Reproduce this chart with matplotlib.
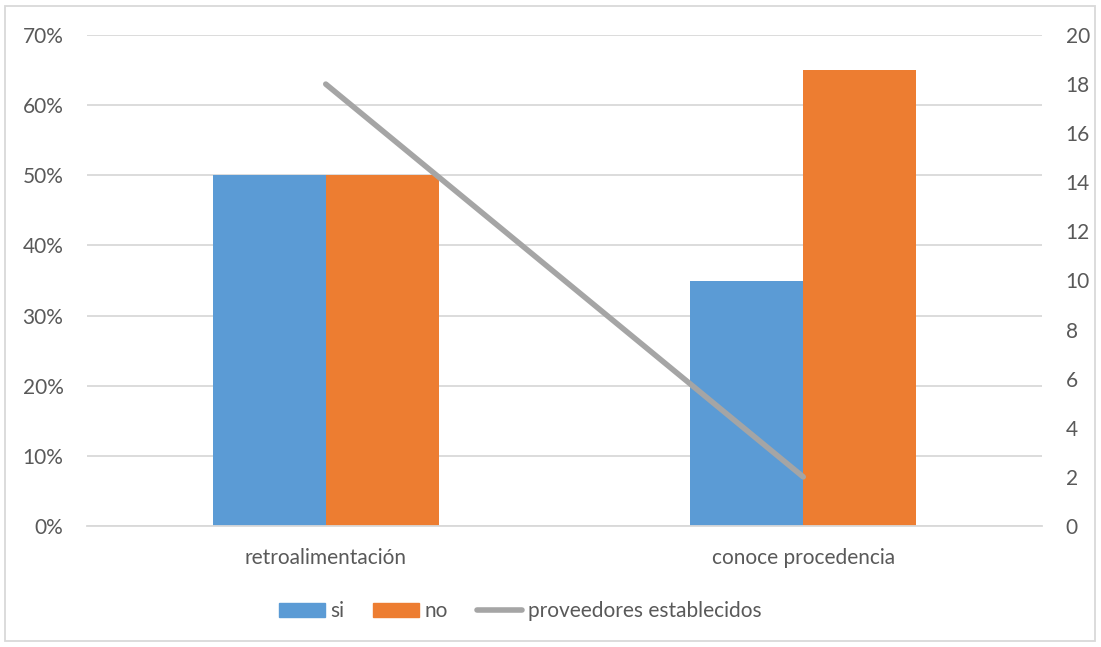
import matplotlib
matplotlib.use('Agg')
import numpy as np
import matplotlib.pyplot as plt
from matplotlib.patches import Rectangle
from matplotlib.lines import Line2D
from matplotlib.ticker import PercentFormatter

categorias = ['retroalimentación', 'conoce procedencia']
si = [0.50, 0.35]
no = [0.50, 0.65]
proveedores = [18, 2]

gris_txt = '#595959'
gris_grid = '#d9d9d9'
fs = 15
plt.rcParams['font.family'] = ['Lato', 'DejaVu Sans']
plt.rcParams['ytick.major.size'] = 0
plt.rcParams['ytick.major.pad'] = 17
plt.rcParams['xtick.major.size'] = 0
plt.rcParams['xtick.major.pad'] = 16
plt.rcParams['ytick.labelsize'] = fs
plt.rcParams['xtick.labelsize'] = fs
plt.rcParams['ytick.color'] = gris_txt
plt.rcParams['xtick.color'] = gris_txt

fig = plt.figure(figsize=(11.01, 6.47), dpi=100)
ax = fig.add_axes([87 / 1101, 1 - 526 / 647, (1042 - 87) / 1101, (526 - 35) / 647])
ax2 = ax.twinx()

x = np.arange(len(categorias))
w = 0.237
ax.bar(x - w / 2, si, w, color='#5b9bd5', zorder=2)
ax.bar(x + w / 2, no, w, color='#ed7d31', zorder=2)
ax2.plot(x, proveedores, color='#a5a5a5', lw=4, solid_capstyle='round', zorder=3)

ax.set_xlim(-0.5, 1.5)
ax.set_ylim(0, 0.7)
ax.set_yticks(np.arange(0, 0.71, 0.1))
ax.yaxis.set_major_formatter(PercentFormatter(1.0, decimals=0))
ax.grid(axis='y', color=gris_grid, lw=1.3, zorder=0)
ax.set_axisbelow(True)
ax.set_xticks(x)
ax.set_xticklabels(categorias)

ax2.set_ylim(0, 20)
ax2.set_yticks(np.arange(0, 21, 2))

for a in (ax, ax2):
    for s in a.spines.values():
        s.set_visible(False)
ax.spines['bottom'].set_visible(True)
ax.spines['bottom'].set_color(gris_grid)
ax.spines['bottom'].set_linewidth(1.3)

# borde exterior del gráfico
fig.patches.append(Rectangle((5 / 1101, 6 / 647), 1090 / 1101, 635 / 647,
                             transform=fig.transFigure, fill=False,
                             edgecolor=gris_grid, lw=1.3))

handles = [Rectangle((0, 0), 1, 1, color='#5b9bd5'),
           Rectangle((0, 0), 1, 1, color='#ed7d31'),
           Line2D([0], [0], color='#a5a5a5', lw=4, solid_capstyle='round')]
fig.legend(handles, ['si', 'no', 'proveedores establecidos'],
           loc='center', bbox_to_anchor=(520 / 1101, 1 - 611 / 647),
           ncol=3, frameon=False, fontsize=fs, labelcolor=gris_txt,
           handlelength=2.2, handleheight=0.67, handletextpad=0.25,
           columnspacing=1.4)

fig.savefig('out.png', dpi=100)
